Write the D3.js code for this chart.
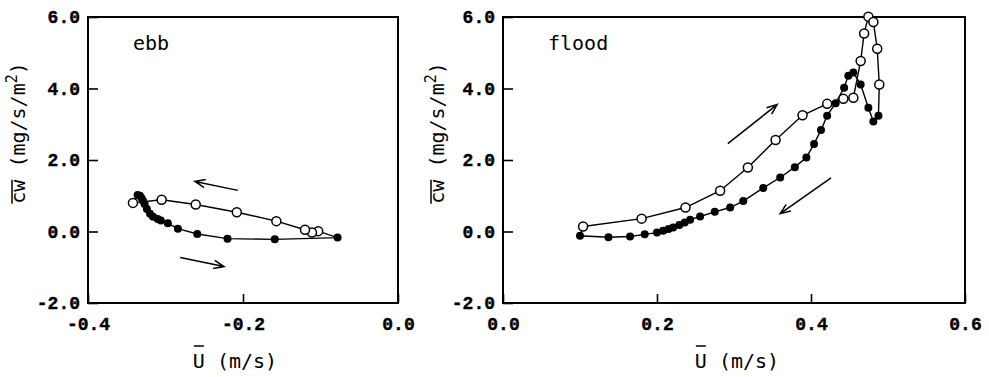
<!DOCTYPE html>
<html><head><meta charset="utf-8">
<script src="https://cdn.jsdelivr.net/npm/d3@7"></script>
<style>
html,body{margin:0;padding:0;background:#fff;}
svg{display:block;background:#fff;}
</style></head><body>
<svg id="chart" width="989" height="377"></svg>
<script>
// Depth-mean velocity U (m/s) vs. vertical flux cw (mg/s/m2) over a tidal cycle.
// Ebb: filled = accelerating leg (left to right), open = decelerating leg (right to left)
const ebbFilled = [
  [-0.336, 1.02], [-0.333, 1.00], [-0.331, 0.94], [-0.329, 0.86], [-0.327, 0.77],
  [-0.324, 0.63], [-0.320, 0.50], [-0.316, 0.41], [-0.310, 0.35], [-0.306, 0.31],
  [-0.297, 0.23], [-0.284, 0.08], [-0.259, -0.07], [-0.220, -0.20], [-0.159, -0.22],
  [-0.078, -0.17]
];
const ebbOpen = [
  [-0.103, 0.01], [-0.111, -0.03], [-0.120, 0.05], [-0.157, 0.29], [-0.208, 0.54],
  [-0.261, 0.755], [-0.305, 0.89], [-0.342, 0.80]
];
// Flood: open = rising leg, filled = falling leg
const floodOpen = [
  [0.104, 0.14], [0.180, 0.36], [0.237, 0.67], [0.282, 1.14], [0.318, 1.79],
  [0.354, 2.56], [0.389, 3.25], [0.421, 3.57], [0.442, 3.71], [0.455, 3.74],
  [0.4645, 4.77], [0.469, 5.54], [0.4745, 6.01], [0.481, 5.86], [0.486, 5.11],
  [0.4887, 4.11]
];
const floodFilled = [
  [0.4876, 3.24], [0.481, 3.08], [0.4745, 3.46], [0.4645, 4.11], [0.455, 4.45],
  [0.4485, 4.36], [0.443, 4.02], [0.432, 3.59], [0.421, 3.24], [0.413, 2.84],
  [0.404, 2.45], [0.394, 2.07], [0.379, 1.80], [0.360, 1.51], [0.338, 1.22],
  [0.312, 0.85], [0.295, 0.67], [0.275, 0.55], [0.256, 0.42], [0.243, 0.33],
  [0.236, 0.25], [0.229, 0.18], [0.221, 0.11], [0.215, 0.07], [0.208, 0.02],
  [0.200, -0.03], [0.184, -0.08], [0.165, -0.14], [0.137, -0.16], [0.100, -0.12]
];
const yTicks = [-2, 0, 2, 4, 6];
const ebbXTicks = [-0.4, -0.2, 0.0];
const floodXTicks = [0.0, 0.2, 0.4, 0.6];
// direction arrows, [from, to] in data units
const ebbArrows = [[[-0.2065, 1.15], [-0.262, 1.40]], [[-0.281, -0.73], [-0.2245, -0.98]]];
const floodArrows = [[[0.292, 2.46], [0.356, 3.55]], [[0.426, 1.50], [0.360, 0.50]]];

const svg = d3.select("#chart");
const TICK_FONT = "'Liberation Mono', 'DejaVu Sans Mono', monospace";
const LABEL_FONT = "'DejaVu Sans Mono', 'Liberation Mono', monospace";

function panel(opt) {
  const x = d3.scaleLinear().domain(opt.xDomain).range([opt.left, opt.right]);
  const y = d3.scaleLinear().domain([-2, 6]).range([opt.bottom, opt.top]);
  const g = svg.append("g");

  // axes with inward ticks
  const ya = g.append("g").attr("transform", `translate(${opt.left},0)`)
    .call(d3.axisLeft(y).tickValues(yTicks).tickSize(-10).tickPadding(8)
      .tickFormat(d => d.toFixed(1)));
  const xa = g.append("g").attr("transform", `translate(0,${opt.bottom})`)
    .call(d3.axisBottom(x).tickValues(opt.xTicks).tickSize(-9).tickPadding(14)
      .tickFormat(d => d.toFixed(1)));
  [ya, xa].forEach(a => {
    a.select(".domain").remove();
    a.selectAll(".tick line").attr("stroke", "#000").attr("stroke-width", 1.6);
    a.selectAll(".tick text").attr("fill", "#000")
      .attr("stroke", "#000").attr("stroke-width", 0.4)
      .style("font-family", TICK_FONT).style("font-weight", "bold").style("font-size", "18px");
  });

  // frame
  g.append("rect").attr("x", opt.left).attr("y", opt.top)
    .attr("width", opt.right - opt.left).attr("height", opt.bottom - opt.top)
    .attr("fill", "none").attr("stroke", "#000").attr("stroke-width", 2);

  // hysteresis loop
  const line = d3.line().x(d => x(d[0])).y(d => y(d[1]));
  g.append("path").datum(opt.loop).attr("d", line)
    .attr("fill", "none").attr("stroke", "#000").attr("stroke-width", 1.4);
  g.append("g").selectAll("circle").data(opt.open).join("circle")
    .attr("cx", d => x(d[0])).attr("cy", d => y(d[1])).attr("r", 4.5)
    .attr("fill", "#fff").attr("stroke", "#000").attr("stroke-width", 1.5);
  g.append("g").selectAll("circle").data(opt.filled).join("circle")
    .attr("cx", d => x(d[0])).attr("cy", d => y(d[1])).attr("r", 4)
    .attr("fill", "#000");

  // arrows
  opt.arrows.forEach(([a, b]) => {
    const x0 = x(a[0]), y0 = y(a[1]), x1 = x(b[0]), y1 = y(b[1]);
    const ang = Math.atan2(y1 - y0, x1 - x0), L = 11, w = 0.38;
    const p = d3.path();
    p.moveTo(x0, y0); p.lineTo(x1, y1);
    p.moveTo(x1 - L * Math.cos(ang - w), y1 - L * Math.sin(ang - w));
    p.lineTo(x1, y1);
    p.lineTo(x1 - L * Math.cos(ang + w), y1 - L * Math.sin(ang + w));
    g.append("path").attr("d", p.toString()).attr("fill", "none")
      .attr("stroke", "#000").attr("stroke-width", 1.5);
  });

  // panel name
  g.append("text").attr("x", opt.nameX).attr("y", 50).text(opt.name)
    .style("font-family", LABEL_FONT).style("font-size", "20px").attr("fill", "#000");

  // x axis label: U with overline
  const xl = g.append("text").attr("x", opt.xLabelX).attr("y", 368)
    .attr("text-anchor", "middle")
    .style("font-family", LABEL_FONT).style("font-size", "20px").attr("fill", "#000");
  xl.append("tspan").text("U");
  xl.append("tspan").text(" (m/s)");
  const ux0 = xl.node().getStartPositionOfChar(0).x, ux1 = xl.node().getEndPositionOfChar(0).x;
  g.append("line").attr("x1", ux0 + 1).attr("x2", ux1 - 1).attr("y1", 346).attr("y2", 346)
    .attr("stroke", "#000").attr("stroke-width", 1.5);

  // y axis label: cw with overline, rotated
  const yg = g.append("g").attr("transform", `translate(${opt.yLabelX},133) rotate(-90)`);
  const yl = yg.append("text").attr("x", 0).attr("y", 0).attr("text-anchor", "middle")
    .style("font-family", LABEL_FONT).style("font-size", "20px").attr("fill", "#000");
  yl.append("tspan").text("cw");
  yl.append("tspan").text("  (mg/s/m");
  yl.append("tspan").text("2").attr("dy", -8).style("font-size", "15px");
  yl.append("tspan").text(")").attr("dy", 8);
  const cx0 = yl.node().getStartPositionOfChar(0).x, cx1 = yl.node().getEndPositionOfChar(1).x;
  yg.append("line").attr("x1", cx0).attr("x2", cx1).attr("y1", -13).attr("y2", -13)
    .attr("stroke", "#000").attr("stroke-width", 1.5);
}

panel({
  xDomain: [-0.4, 0.0], left: 88, right: 398, top: 17, bottom: 303,
  xTicks: ebbXTicks, name: "ebb", nameX: 133, xLabelX: 235, yLabelX: 25,
  open: ebbOpen, filled: ebbFilled,
  loop: ebbFilled.concat(ebbOpen, [ebbFilled[0]]),
  arrows: ebbArrows
});
panel({
  xDomain: [0.0, 0.6], left: 503, right: 965, top: 17, bottom: 303,
  xTicks: floodXTicks, name: "flood", nameX: 548, xLabelX: 737, yLabelX: 444,
  open: floodOpen, filled: floodFilled,
  loop: floodOpen.concat(floodFilled, [floodOpen[0]]),
  arrows: floodArrows
});
</script>
</body></html>
